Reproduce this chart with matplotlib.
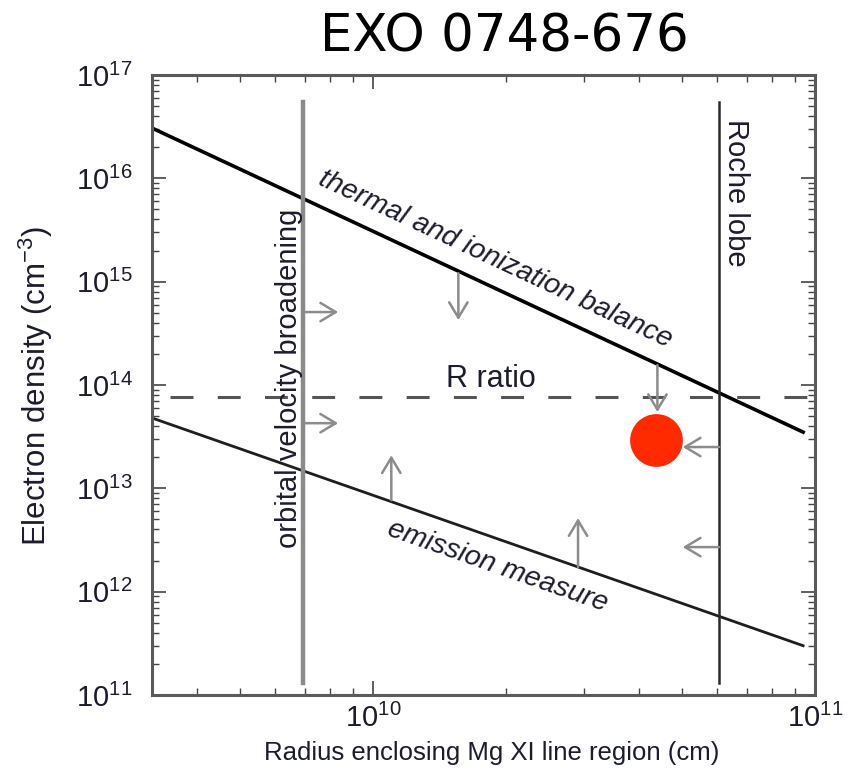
import numpy as np
import matplotlib
matplotlib.use('Agg')
import matplotlib.pyplot as plt
from matplotlib.ticker import LogLocator, NullFormatter, FuncFormatter, FixedLocator

plt.rcParams['font.family'] = ['Liberation Sans', 'DejaVu Sans']
plt.rcParams['mathtext.fontset'] = 'custom'
plt.rcParams['mathtext.rm'] = 'Liberation Sans'
plt.rcParams['mathtext.it'] = 'Liberation Sans:italic'
plt.rcParams['lines.scale_dashes'] = False

# data (radius in cm, density in cm^-3)
x_range = [10**9.5, 1e11]
y_range = [1e11, 1e17]
x_major = [1e10, 1e11]
y_major = [1e11, 1e12, 1e13, 1e14, 1e15, 1e16, 1e17]

thermal_r = [3.16e9, 9.4e10]
thermal_n = [3.07e16, 3.5e13]

emission_r = [3.16e9, 9.4e10]
emission_n = [4.8e13, 3.0e11]

r_ratio_n = 7.6e13

orbital_r = 6.95e9
roche_r = 6.07e10
vline_n = [5.5e16, 1.3e11]

source_r = 4.37e10
source_n = 2.93e13

# arrows: (r_start, n_start, r_end, n_end)
arrows = [
    (6.95e9, 5.08e14, 8.34e9, 5.08e14),
    (6.95e9, 4.27e13, 8.34e9, 4.27e13),
    (1.56e10, 1.21e15, 1.56e10, 4.25e14),
    (4.40e10, 1.56e14, 4.40e10, 5.47e13),
    (1.10e10, 7.69e12, 1.10e10, 2.09e13),
    (2.91e10, 1.73e12, 2.91e10, 5.15e12),
    (6.07e10, 2.51e13, 5.02e10, 2.51e13),
    (6.07e10, 2.70e12, 5.02e10, 2.70e12),
]

fig = plt.figure(figsize=(8.52, 7.78), dpi=100)
ax = fig.add_axes([152/852, 1-695/778, 663/852, 620/778])
ax.set_xscale('log')
ax.set_yscale('log')
ax.set_xlim(x_range)
ax.set_ylim(y_range)

ax.plot(thermal_r, thermal_n, color='black', lw=2.6)
ax.plot(emission_r, emission_n, color='#1e1e1e', lw=2.0)
ax.plot(x_range, [r_ratio_n, r_ratio_n], color='#555555', lw=2.2,
        ls=(21, (16.5, 17.5)))
ax.plot([orbital_r, orbital_r], vline_n, color='#8a8a8a', lw=3.2)
ax.plot([roche_r, roche_r], vline_n, color='#2a2a2a', lw=1.8)

for r0, n0, r1, n1 in arrows:
    ax.annotate('', xy=(r1, n1), xytext=(r0, n0),
                arrowprops=dict(arrowstyle='->,head_length=0.55,head_width=0.33',
                                color='#8c8c8c', lw=1.8, mutation_scale=20,
                                shrinkA=0, shrinkB=0))

ax.plot([source_r], [source_n], 'o', ms=38, color='#ff2a00', mec='none', zorder=5)


def line_angle(rs, ns):
    p = ax.transData.transform(np.column_stack([rs, ns]))
    return np.degrees(np.arctan2(p[1, 1] - p[0, 1], p[1, 0] - p[0, 0]))


txt_col = '#1c1c2c'
ax.text(10**10.276, 10**15.21, 'thermal and ionization balance', style='italic',
        fontsize=20.5, rotation=line_angle(thermal_r, thermal_n),
        rotation_mode='anchor', ha='center', va='center', color=txt_col)
ax.text(10**10.281, 10**12.247, 'emission measure', style='italic',
        fontsize=20.5, rotation=line_angle(emission_r, emission_n),
        rotation_mode='anchor', ha='center', va='center', color=txt_col)
ax.text(10**10.267, 10**14.057, 'R ratio', fontsize=22,
        ha='center', va='center', color=txt_col)
ax.text(10**9.81, 10**14.067, 'orbital velocity broadening', fontsize=21,
        rotation=90, ha='center', va='center', color=txt_col)
ax.text(10**10.821, 10**15.858, 'Roche lobe', fontsize=21,
        rotation=-90, ha='center', va='center', color=txt_col)

# axes styling
for s in ax.spines.values():
    s.set_color('#5a5a5a')
    s.set_linewidth(2.2)
ax.tick_params(which='both', direction='in', top=True, right=True,
               color='#444444', labelsize=21, labelcolor='#1c1c2c')
ax.tick_params(which='major', length=10, width=1.2)
ax.tick_params(which='minor', length=5, width=1.0)
ax.tick_params(axis='y', pad=14)
ax.tick_params(axis='x', pad=6)
ax.xaxis.set_major_locator(FixedLocator(x_major))
ax.yaxis.set_major_locator(FixedLocator(y_major))
ax.xaxis.set_minor_locator(LogLocator(base=10, subs=np.arange(2, 10), numticks=100))
ax.yaxis.set_minor_locator(LogLocator(base=10, subs=np.arange(2, 10), numticks=100))
ax.xaxis.set_minor_formatter(NullFormatter())
ax.yaxis.set_minor_formatter(NullFormatter())
fmt = FuncFormatter(lambda v, pos: r'$\mathregular{10^{%d}}$' % int(round(np.log10(v))))
ax.xaxis.set_major_formatter(fmt)
ax.yaxis.set_major_formatter(fmt)

fig.text(492/852, 1-753/778, 'Radius enclosing Mg XI line region (cm)',
         fontsize=18.5, ha='center', va='center', color=txt_col)
fig.text(36/852, 1-386/778, r'Electron density (cm$^{-3}$)',
         fontsize=22.5, rotation=90, ha='center', va='center', color=txt_col)

fig.text(504/852, 1-38/778, 'EXO 0748-676', fontsize=37,
         family='DejaVu Sans', ha='center', va='center', color='black')

fig.savefig('out.png', dpi=100)
